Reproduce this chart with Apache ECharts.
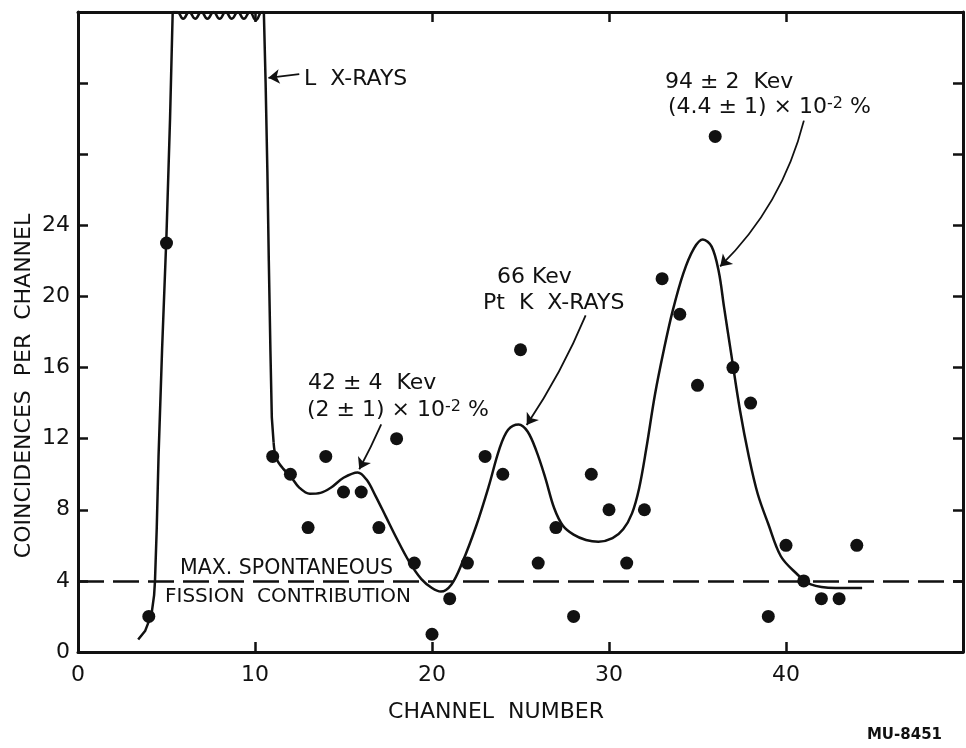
<!DOCTYPE html>
<html><head><meta charset="utf-8">
<script src="https://cdn.jsdelivr.net/npm/echarts@6/dist/echarts.min.js"></script>
<style>html,body{margin:0;padding:0;background:#fff}#c{width:966px;height:748px}</style>
</head><body><div id="c"></div>
<script>
// ---- data ----
const channels = [4,5,11,12,13,14,15,16,17,18,19,20,21,22,23,24,25,26,27,28,29,30,31,32,33,34,35,36,37,38,39,40,41,42,43,44];
const coincidences = [2,23,11,10,7,11,9,9,7,12,5,1,3,5,11,10,17,5,7,2,10,8,5,8,21,19,15,29,16,14,2,6,4,3,3,6];

// hand-drawn curve, in pieces
const curveRise = [[3.4,0.7],[3.8,1.2],[4.15,2.1],[4.3,3.2],[4.35,4],[4.45,7],[4.55,11],[4.75,17],[5.0,23.5],[5.2,30],[5.35,36]];
const curveTop = [[5.35,36],[5.6,36],[5.94,35.62],[6.28,36],[6.62,35.62],[6.97,36],[7.31,35.62],[7.66,36],[8.0,35.62],[8.34,36],[8.69,35.62],[9.03,36],[9.37,35.62],[9.71,36],[10.05,35.55],[10.4,36],[10.5,36]];
const curveDrop = [[10.5,36],[10.6,32],[10.7,27],[10.78,22],[10.87,17],[10.95,13.2],[11.05,11.8]];
const curveTail = [[11.05,11.8],[11.2,10.9],[11.6,10.3],[12.0,9.9],[12.5,9.25],[13.1,8.9],[13.7,8.95],[14.3,9.25],[15.0,9.8],[15.8,10.1],[16.3,9.7],[16.8,8.8],[17.4,7.6],[18.0,6.4],[18.7,5.1],[19.4,4.1],[20.0,3.6],[20.5,3.4],[21.1,3.8],[21.7,5.0],[22.5,7.1],[23.2,9.3],[23.8,11.4],[24.3,12.5],[24.9,12.8],[25.4,12.4],[25.9,11.3],[26.4,9.8],[26.9,8.1],[27.4,7.1],[28.0,6.6],[28.7,6.3],[29.4,6.2],[30.2,6.4],[30.8,6.9],[31.3,7.8],[31.7,9.2],[32.1,11.4],[32.6,14.5],[33.1,17.0],[33.6,19.2],[34.2,21.3],[34.8,22.7],[35.3,23.2],[35.8,22.8],[36.2,21.4],[36.5,19.4],[36.9,16.8],[37.4,13.6],[37.9,11.0],[38.4,8.9],[39.0,7.2],[39.7,5.4],[40.5,4.5],[41.4,3.8],[42.8,3.6],[44.3,3.6]];

const spontaneousLevel = 4;
const xTickLabels = ['0','10','20','30','40',''];
const yLabelledMax = 24;

// annotation arrows: [tail, tip]
const arrowLX = [[12.5,32.5],[10.76,32.3]];
const arrow42 = [[17.13,12.8],[15.89,10.28]];
const arrow66 = [[28.68,18.93],[25.35,12.77]];
const arrow94 = [[41.01,29.89],[36.28,21.69]];

// ---- chart ----
const FONT = '"DejaVu Sans", "Liberation Sans", sans-serif';
const INK = '#111';
const chart = echarts.init(document.getElementById('c'));

const axisLine = {show:true, onZero:false, lineStyle:{color:INK, width:3}};
const axisTick = {show:true, inside:true, length:10, lineStyle:{color:INK, width:2.5}};

function arrowItem(a, curv){
  return {coords:[a[0], a[1]], lineStyle:{curveness:curv}};
}
function curveSeries(d, smooth){
  return {type:'line', data:d, smooth:smooth,
    symbol:'none', lineStyle:{color:INK, width:2.5}, silent:true, z:3};
}

chart.setOption({
  animation:false,
  backgroundColor:'#fff',
  grid:{left:78, right:1, top:12, bottom:96, containLabel:false},
  xAxis:[
    {type:'value', position:'bottom', min:0, max:50, interval:10,
     axisLine, axisTick, splitLine:{show:false},
     axisLabel:{margin:12, color:INK, fontFamily:FONT, fontSize:22,
       formatter:(v)=>xTickLabels[Math.round(v/10)]}},
    {type:'value', position:'top', min:0, max:50, interval:10,
     axisLine, axisTick, splitLine:{show:false}, axisLabel:{show:false}}
  ],
  yAxis:[
    {type:'value', position:'left', min:0, max:36, interval:4,
     axisLine, axisTick, splitLine:{show:false},
     axisLabel:{margin:8, color:INK, fontFamily:FONT, fontSize:22,
       formatter:(v)=> v<=yLabelledMax ? String(v) : ''}},
    {type:'value', position:'right', min:0, max:36, interval:4,
     axisLine, axisTick, splitLine:{show:false}, axisLabel:{show:false}}
  ],
  series:[
    curveSeries(curveRise, false),
    curveSeries(curveTop, 0.5),
    curveSeries(curveDrop, false),
    curveSeries(curveTail, 0.35),
    {type:'scatter', data:channels.map((c,i)=>[c, coincidences[i]]),
     symbol:'circle', symbolSize:13, itemStyle:{color:INK, opacity:1}, z:4},
    {type:'lines', coordinateSystem:'cartesian2d', silent:true, z:5,
     symbol:['none','arrow'], symbolSize:11,
     lineStyle:{color:INK, width:1.8, opacity:1},
     data:[arrowItem(arrowLX,0), arrowItem(arrow42,0.02), arrowItem(arrow66,0.05), arrowItem(arrow94,0.14)]},
    {type:'line', data:[], silent:true,
     markLine:{silent:true, symbol:['none','none'], animation:false, label:{show:false},
       lineStyle:{color:INK, width:2.5, type:[26,9]},
       data:[{yAxis:spontaneousLevel}]}}
  ],
  graphic:[
    {type:'text', x:24, y:386, rotation:Math.PI/2, style:{text:'COINCIDENCES  PER  CHANNEL', font:'22px '+FONT, fill:INK, align:'center', verticalAlign:'middle'}},
    {type:'text', x:496, y:712, style:{text:'CHANNEL  NUMBER', font:'22px '+FONT, fill:INK, align:'center', verticalAlign:'middle'}},
    {type:'text', x:942, y:735, style:{text:'MU-8451', font:'bold 15px '+FONT, fill:INK, align:'right', verticalAlign:'middle'}},
    {type:'text', x:304, y:79, style:{text:'L  X-RAYS', font:'22px '+FONT, fill:INK, align:'left', verticalAlign:'middle'}},
    {type:'text', x:308, y:383, style:{text:'42 ± 4  Kev', font:'22px '+FONT, fill:INK, align:'left', verticalAlign:'middle'}},
    {type:'text', x:307, y:410, style:{text:'(2 ± 1) × 10{s|-2} %', font:'22px '+FONT, fill:INK, align:'left', verticalAlign:'middle',
      rich:{s:{font:'16px '+FONT, fill:INK, verticalAlign:'top'}}}},
    {type:'text', x:497, y:277, style:{text:'66 Kev', font:'22px '+FONT, fill:INK, align:'left', verticalAlign:'middle'}},
    {type:'text', x:483, y:303, style:{text:'Pt  K  X-RAYS', font:'22px '+FONT, fill:INK, align:'left', verticalAlign:'middle'}},
    {type:'text', x:665, y:82, style:{text:'94 ± 2  Kev', font:'22px '+FONT, fill:INK, align:'left', verticalAlign:'middle'}},
    {type:'text', x:668, y:107, style:{text:'(4.4 ± 1) × 10{s|-2} %', font:'22px '+FONT, fill:INK, align:'left', verticalAlign:'middle',
      rich:{s:{font:'16px '+FONT, fill:INK, verticalAlign:'top'}}}},
    {type:'text', x:180, y:569, style:{text:'MAX. SPONTANEOUS', font:'20.5px '+FONT, fill:INK, align:'left', verticalAlign:'middle'}},
    {type:'text', x:165, y:597, style:{text:'FISSION  CONTRIBUTION', font:'20px '+FONT, fill:INK, align:'left', verticalAlign:'middle'}}
  ]
});
</script></body></html>
